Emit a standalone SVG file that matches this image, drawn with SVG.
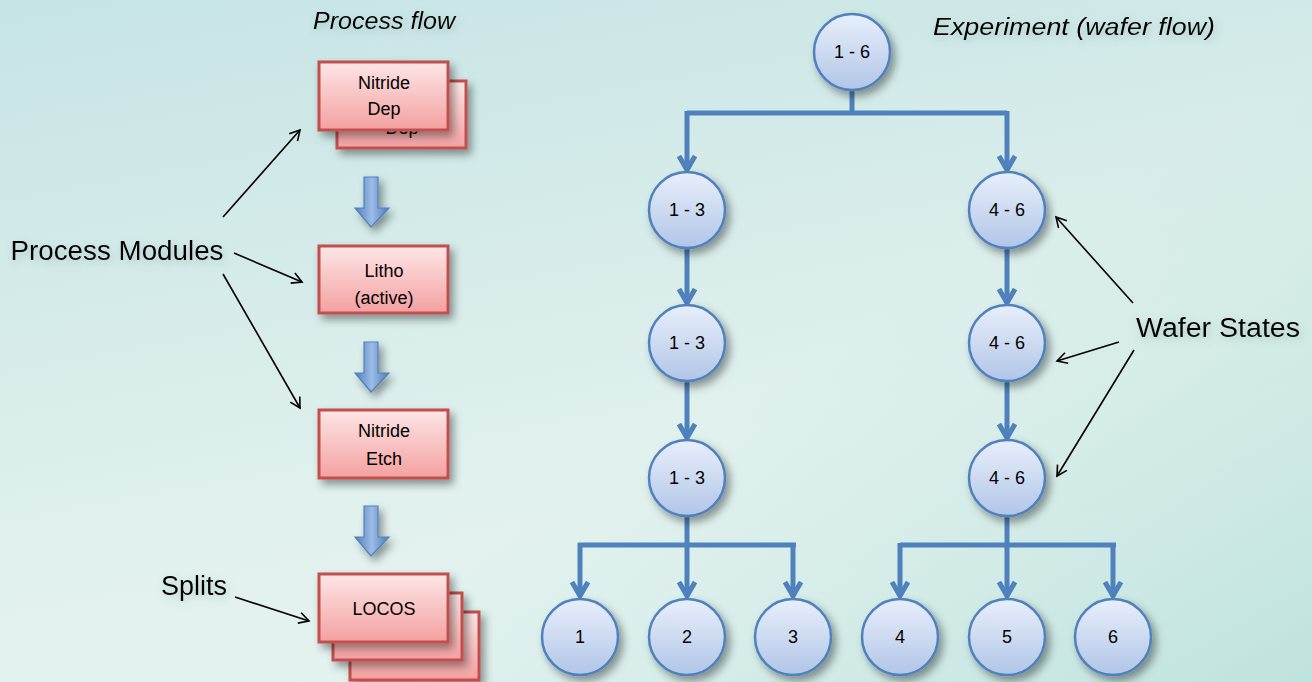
<svg xmlns="http://www.w3.org/2000/svg" width="1312" height="682" viewBox="0 0 1312 682">
<defs>
<linearGradient id="bg" x1="0" y1="0" x2="0.35" y2="1">
<stop offset="0" stop-color="#c6e4e4"/>
<stop offset="0.75" stop-color="#e1f1ee"/>
<stop offset="1" stop-color="#e5f3f0"/>
</linearGradient>
<linearGradient id="bg2" x1="0.55" y1="0.6" x2="1" y2="1">
<stop offset="0" stop-color="#c0e3df" stop-opacity="0"/>
<stop offset="1" stop-color="#bfe3de" stop-opacity="1"/>
</linearGradient>
<linearGradient id="circ" x1="0" y1="0" x2="0" y2="1">
<stop offset="0" stop-color="#e8effb"/>
<stop offset="1" stop-color="#b1c5e7"/>
</linearGradient>
<linearGradient id="box" x1="0" y1="0" x2="0" y2="1">
<stop offset="0" stop-color="#fde6e6"/>
<stop offset="1" stop-color="#f4a0a0"/>
</linearGradient>
<linearGradient id="barrow" x1="0" y1="0" x2="1" y2="0">
<stop offset="0" stop-color="#4f81bd"/>
<stop offset="0.5" stop-color="#9dbbe6"/>
<stop offset="1" stop-color="#4a7cba"/>
</linearGradient>
<filter id="sh" x="-30%" y="-30%" width="170%" height="170%">
<feDropShadow dx="4" dy="5" stdDeviation="4" flood-color="#000" flood-opacity="0.4"/>
</filter>
<filter id="tsh" x="-20%" y="-40%" width="140%" height="200%">
<feDropShadow dx="2" dy="3" stdDeviation="4" flood-color="#5a8080" flood-opacity="0.35"/>
</filter>
<marker id="bh" markerUnits="userSpaceOnUse" markerWidth="30" markerHeight="30" viewBox="-20 -15 30 30" refX="0" refY="0" orient="auto">
<path d="M-14,-8 L0,0 L-14,8" fill="none" stroke="#4f81bd" stroke-width="5" stroke-linejoin="miter"/>
</marker>
<marker id="kh" markerUnits="userSpaceOnUse" markerWidth="20" markerHeight="20" viewBox="-15 -10 20 20" refX="0" refY="0" orient="auto">
<path d="M-10,-5.5 L0,0 L-10,5.5" fill="none" stroke="#000" stroke-width="1.6"/>
</marker>
</defs>
<style>
.c{fill:url(#circ);stroke:#4f81bd;stroke-width:2.5;filter:url(#sh)}
.b{fill:url(#box);stroke:#c0504d;stroke-width:3;filter:url(#sh)}
.t{font-family:"Liberation Sans",Arial,sans-serif;fill:#000;text-anchor:middle}
.ct{font-size:18px}
.bt{font-size:18px}
.lab{font-size:27px;filter:url(#tsh)}
.ttl{font-size:23px;font-style:italic;filter:url(#tsh)}
.bl{fill:none;stroke:#4f81bd;stroke-width:5}
.kl{fill:none;stroke:#000;stroke-width:1.6}
.ba{fill:url(#barrow);stroke:#4f81bd;stroke-width:1.2;filter:url(#sh)}
</style>
<rect width="1312" height="682" fill="url(#bg)"/>
<rect width="1312" height="682" fill="url(#bg2)"/>

<text class="t ttl" x="384" y="29" textLength="142" lengthAdjust="spacingAndGlyphs">Process flow</text>
<text class="t ttl" x="1074" y="35" textLength="282" lengthAdjust="spacingAndGlyphs">Experiment (wafer flow)</text>

<g id="process-modules-label"><text class="t lab" x="117" y="260" textLength="213" lengthAdjust="spacingAndGlyphs">Process Modules</text></g>
<g id="splits-label"><text class="t lab" x="194" y="595">Splits</text></g>
<g id="wafer-states-label"><text class="t lab" x="1218" y="337" textLength="164" lengthAdjust="spacingAndGlyphs">Wafer States</text></g>

<g id="nitride-dep">
<rect class="b" x="337" y="81" width="129" height="67"/>
<text class="t bt" x="402" y="134">Dep</text>
<rect class="b" x="319" y="62" width="129" height="68"/>
<text class="t bt" x="384" y="89">Nitride</text>
<text class="t bt" x="384" y="115">Dep</text>
</g>
<g id="litho">
<rect class="b" x="319" y="246" width="129" height="67"/>
<text class="t bt" x="384" y="277">Litho</text>
<text class="t bt" x="384" y="304">(active)</text>
</g>
<g id="nitride-etch">
<rect class="b" x="319" y="410" width="129" height="68"/>
<text class="t bt" x="384" y="437">Nitride</text>
<text class="t bt" x="384" y="465">Etch</text>
</g>
<g id="locos">
<rect class="b" x="350" y="612" width="129" height="68"/>
<rect class="b" x="333" y="593" width="129" height="67"/>
<rect class="b" x="319" y="574" width="129" height="68"/>
<text class="t bt" x="384" y="615">LOCOS</text>
</g>

<g id="block-arrows">
<polygon class="ba" points="364,177 378,177 378,208 389,208 371,227 355,208 364,208"/>
<polygon class="ba" points="364,342 378,342 378,373 389,373 371,392 355,373 364,373"/>
<polygon class="ba" points="364,506 378,506 378,537 389,537 371,556 355,537 364,537"/>
</g>

<g id="connectors">
<path class="bl" d="M852,90 V113 M687,113 H1007"/>
<path class="bl" d="M687,111 V170" marker-end="url(#bh)"/>
<path class="bl" d="M1007,111 V170" marker-end="url(#bh)"/>
<path class="bl" d="M687,248 V303" marker-end="url(#bh)"/>
<path class="bl" d="M687,381 V438" marker-end="url(#bh)"/>
<path class="bl" d="M1007,248 V303" marker-end="url(#bh)"/>
<path class="bl" d="M1007,381 V438" marker-end="url(#bh)"/>
<path class="bl" d="M687,516 V545 M578,545 H796 M900,545 H1116 M1007,516 V545"/>
<path class="bl" d="M580,543 V596" marker-end="url(#bh)"/>
<path class="bl" d="M687,543 V596" marker-end="url(#bh)"/>
<path class="bl" d="M793,543 V596" marker-end="url(#bh)"/>
<path class="bl" d="M900,543 V596" marker-end="url(#bh)"/>
<path class="bl" d="M1007,543 V596" marker-end="url(#bh)"/>
<path class="bl" d="M1113,543 V596" marker-end="url(#bh)"/>
<path class="kl" d="M223,217 L300,130" marker-end="url(#kh)"/>
<path class="kl" d="M234,253 L302,282" marker-end="url(#kh)"/>
<path class="kl" d="M223,274 L300,408" marker-end="url(#kh)"/>
<path class="kl" d="M235,597 L309,621" marker-end="url(#kh)"/>
<path class="kl" d="M1133,303 L1056,217" marker-end="url(#kh)"/>
<path class="kl" d="M1119,342 L1057,361" marker-end="url(#kh)"/>
<path class="kl" d="M1134,350 L1057,476" marker-end="url(#kh)"/>
</g>

<g id="n16"><circle class="c" cx="852" cy="52" r="38"/><text class="t ct" x="852" y="58">1 - 6</text></g>
<g id="n13a"><circle class="c" cx="687" cy="210" r="38"/><text class="t ct" x="687" y="216">1 - 3</text></g>
<g id="n13b"><circle class="c" cx="687" cy="343" r="38"/><text class="t ct" x="687" y="349">1 - 3</text></g>
<g id="n13c"><circle class="c" cx="687" cy="478" r="38"/><text class="t ct" x="687" y="484">1 - 3</text></g>
<g id="n46a"><circle class="c" cx="1007" cy="210" r="38"/><text class="t ct" x="1007" y="216">4 - 6</text></g>
<g id="n46b"><circle class="c" cx="1007" cy="343" r="38"/><text class="t ct" x="1007" y="349">4 - 6</text></g>
<g id="n46c"><circle class="c" cx="1007" cy="478" r="38"/><text class="t ct" x="1007" y="484">4 - 6</text></g>
<g id="n1"><circle class="c" cx="580" cy="637" r="38"/><text class="t ct" x="580" y="643">1</text></g>
<g id="n2"><circle class="c" cx="687" cy="637" r="38"/><text class="t ct" x="687" y="643">2</text></g>
<g id="n3"><circle class="c" cx="793" cy="637" r="38"/><text class="t ct" x="793" y="643">3</text></g>
<g id="n4"><circle class="c" cx="900" cy="637" r="38"/><text class="t ct" x="900" y="643">4</text></g>
<g id="n5"><circle class="c" cx="1007" cy="637" r="38"/><text class="t ct" x="1007" y="643">5</text></g>
<g id="n6"><circle class="c" cx="1113" cy="637" r="38"/><text class="t ct" x="1113" y="643">6</text></g>
</svg>
